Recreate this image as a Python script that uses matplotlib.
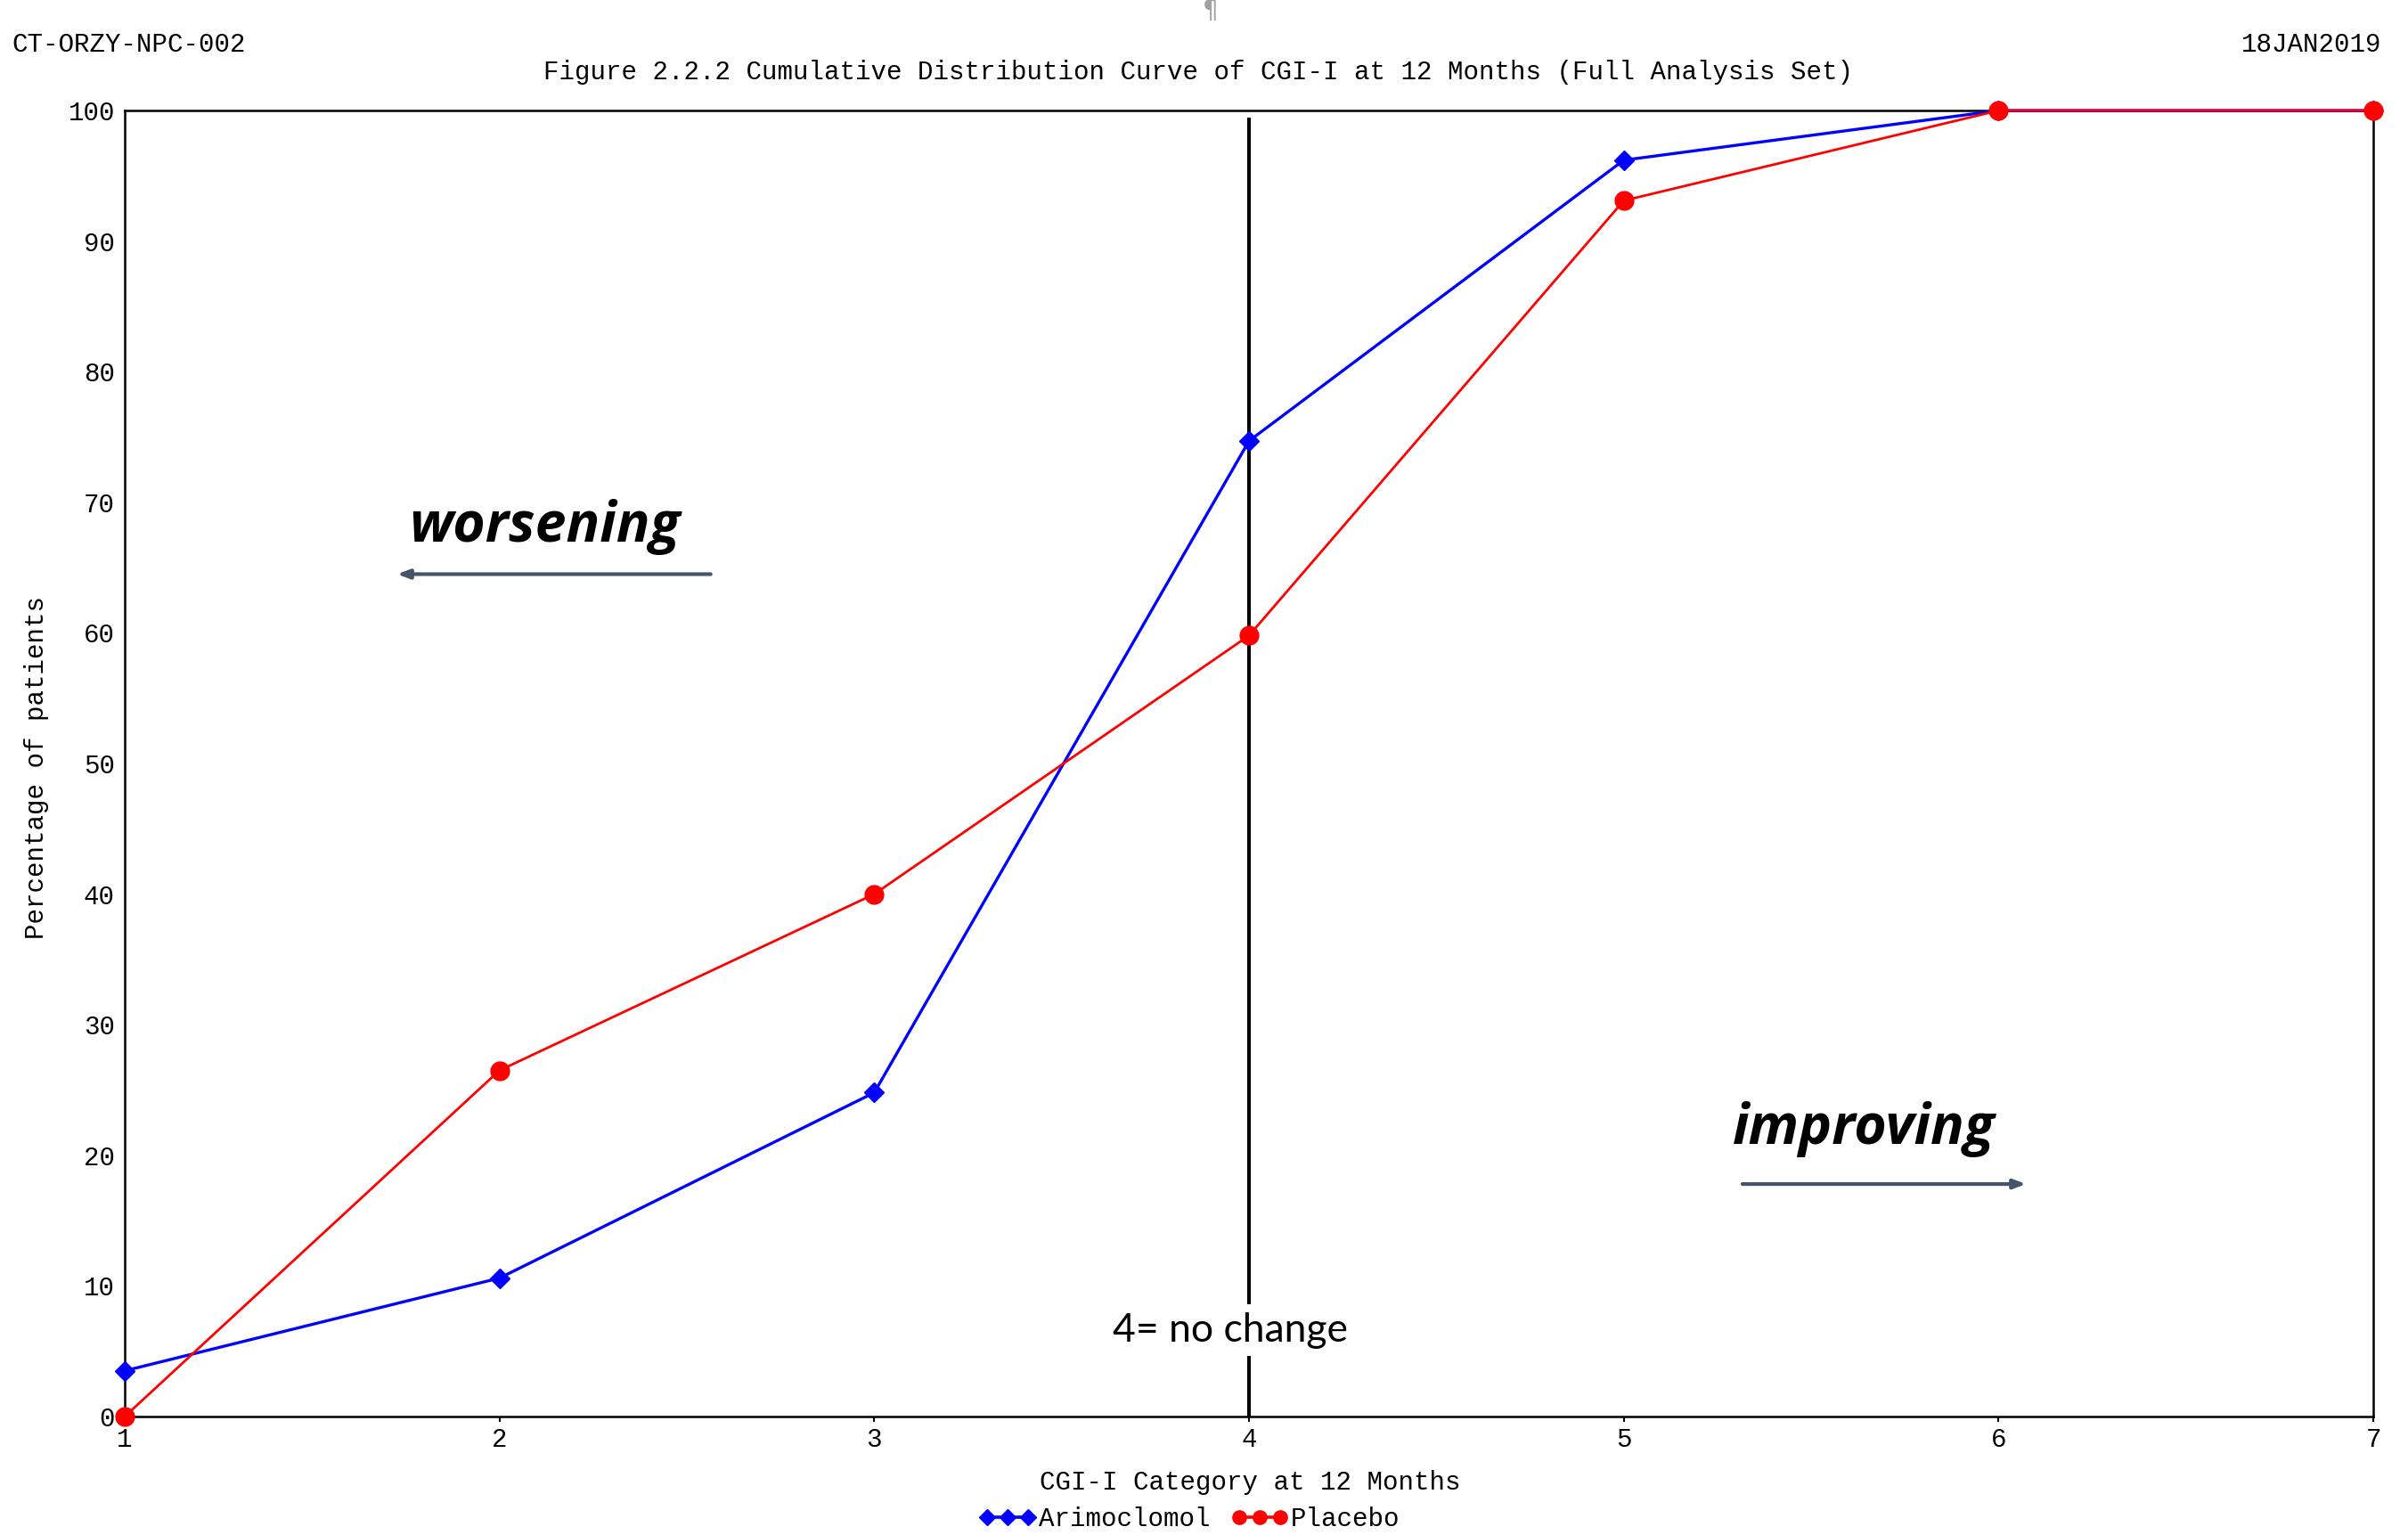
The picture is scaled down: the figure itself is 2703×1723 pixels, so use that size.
import matplotlib
matplotlib.use("Agg")
import matplotlib.pyplot as plt
from matplotlib.lines import Line2D

# CGI-I categories and cumulative percentages
categories = [1, 2, 3, 4, 5, 6, 7]
arimoclomol = [3.5, 10.6, 24.8, 74.7, 96.2, 100, 100]
placebo = [0, 26.5, 40.0, 59.8, 93.1, 100, 100]
y_ticks = [0, 10, 20, 30, 40, 50, 60, 70, 80, 90, 100]

MONO = "Liberation Mono"
ARROW_COLOR = "#44546A"

fig = plt.figure(figsize=(27.03, 17.23), dpi=100)
ax = fig.add_axes([0.0518, 0.0772, 0.9338, 0.8508])

ax.plot(categories, arimoclomol, color="#0000FF", lw=2.4, marker="D",
        ms=11, mec="#0000FF", mfc="#0000FF", zorder=3, clip_on=False)
ax.plot(categories, placebo, color="#FF0000", lw=2.0, marker="o",
        ms=15, mec="#FF0000", mfc="#FF0000", zorder=4, clip_on=False)

ax.set_xlim(1, 7)
ax.set_ylim(0, 100)
ax.set_xticks(categories)
ax.set_yticks(y_ticks)
ax.set_xticklabels([str(c) for c in categories], fontfamily=MONO, fontsize=21)
ax.set_yticklabels([str(t) for t in y_ticks], fontfamily=MONO, fontsize=21)
ax.tick_params(axis="both", length=4, width=1.5, pad=5)
ax.tick_params(axis="y", length=0, pad=8)
for sp in ax.spines.values():
    sp.set_linewidth(1.8)

# reference line at "no change"
ax.axvline(4, ymin=0, ymax=0.993, color="black", lw=2.9, zorder=2)
ax.text(3.95, 6.6, "4= no change", ha="center", va="center",
        fontfamily="Lato", fontsize=32, zorder=5,
        bbox=dict(facecolor="white", edgecolor="none", pad=6))

ax.text(2.12, 68.1, "worsening", ha="center", va="center", fontfamily="Open Sans",
        fontweight="bold", fontstyle="italic", fontsize=45)
ax.annotate("", xy=(1.72, 64.5), xytext=(2.57, 64.5),
            arrowprops=dict(arrowstyle="-|>,head_length=0.8,head_width=0.3",
                            color=ARROW_COLOR, lw=3))
ax.text(5.64, 22.0, "improving", ha="center", va="center", fontfamily="Open Sans",
        fontweight="bold", fontstyle="italic", fontsize=45)
ax.annotate("", xy=(6.08, 17.8), xytext=(5.31, 17.8),
            arrowprops=dict(arrowstyle="-|>,head_length=0.8,head_width=0.3",
                            color=ARROW_COLOR, lw=3))

# headers
fig.text(0.005, 0.971, "CT-ORZY-NPC-002", ha="left", va="center",
         fontfamily=MONO, fontsize=21)
fig.text(0.989, 0.971, "18JAN2019", ha="right", va="center",
         fontfamily=MONO, fontsize=21)
fig.text(0.4975, 0.953,
         "Figure 2.2.2 Cumulative Distribution Curve of CGI-I at 12 Months (Full Analysis Set)",
         ha="center", va="center", fontfamily=MONO, fontsize=21)
fig.text(0.5025, 0.993, "\u00b6", ha="center", va="center", color="#A0A0A0",
         fontsize=20)

fig.text(0.519, 0.034, "CGI-I Category at 12 Months", ha="center", va="center",
         fontfamily=MONO, fontsize=21)
fig.text(0.0153, 0.5, "Percentage of patients", ha="center", va="center",
         rotation=90, fontfamily=MONO, fontsize=21)

handles = [
    Line2D([0], [0], color="#0000FF", lw=2.6, marker="D", ms=9),
    Line2D([0], [0], color="#FF0000", lw=2.6, marker="o", ms=11),
]
fig.legend(handles, ["Arimoclomol", "Placebo"], loc="center",
           bbox_to_anchor=(0.494, 0.0105), ncol=2, frameon=False,
           numpoints=3, handlelength=2.2, handletextpad=0.1, columnspacing=0.8,
           prop=dict(family=MONO, size=21))

fig.savefig("out.png", dpi=100)
